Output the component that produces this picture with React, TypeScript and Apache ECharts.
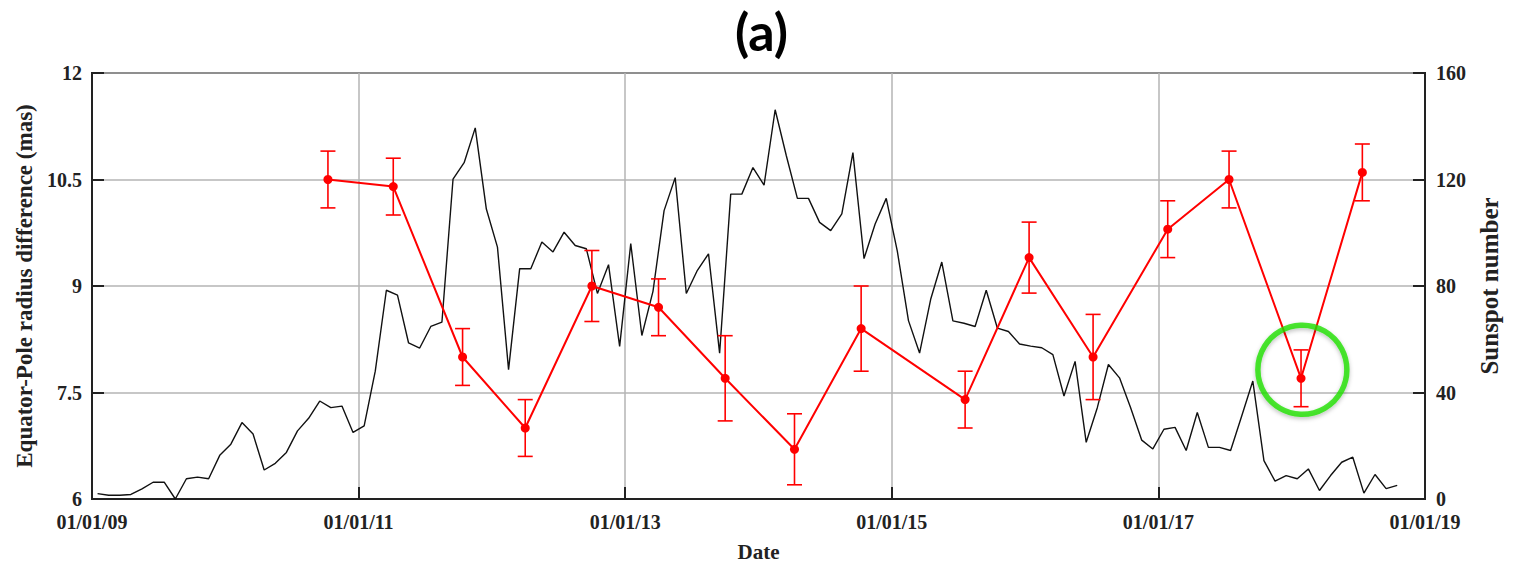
import React, { useEffect, useRef } from "react";
import * as echarts from "echarts";

// ---------- data ----------
const START_YEAR = 2009;

// Monthly sunspot number, Jan 2009 .. Oct 2018 (right axis)
const MONTHLY_SSN = [
  2.0, 1.4, 1.4, 1.7, 3.8, 6.3, 6.3, 0, 7.6, 8.2, 7.6, 16.4,
  20.6, 28.7, 24.4, 10.9, 13.4, 17.5, 25.6, 30.3, 36.8, 34.3, 34.9, 25.0,
  27.5, 48, 78.4, 76.6, 58.6, 56.7, 64.8, 66.4, 120.1, 126.3, 139.4, 108.9,
  94.6, 48.6, 86.5, 86.5, 96.5, 92.8, 100.2, 95.2, 94.0, 77.2, 88.0, 57.3,
  95.9, 61.4, 78, 108.3, 120.7, 77.2, 85.9, 92.1, 54.8, 114.5, 114.5, 124.5,
  117.9, 146.2, 129, 112.9, 112.9, 103.9, 100.8, 107.1, 130.1, 90.3, 103.3, 112.9,
  93, 67, 54.8, 75, 89.0, 66.9, 66.0, 64.8, 78.4, 64.2, 62.9, 58.2,
  57.4, 56.8, 54.2, 38.7, 51.7, 21.3, 34.3, 50.5, 45.5, 34.3, 22.1, 18.8,
  26.2, 26.9, 18.2, 32.5, 19.4, 19.4, 18.2, 31.2, 44.3, 14.4, 6.7, 8.8,
  7.6, 11.3, 3.2, 8.8, 13.8, 15.7, 2.2, 9.2, 3.9, 5.1,
];

// Equator-Pole radius difference (mas), left axis
const EP_DATES = [
  2010.77, 2011.26, 2011.78, 2012.25, 2012.75, 2013.25, 2013.75, 2014.27,
  2014.77, 2015.55, 2016.03, 2016.51, 2017.07, 2017.53, 2018.07, 2018.53,
];
const EP_VALUES = [10.5, 10.4, 8.0, 7.0, 9.0, 8.7, 7.7, 6.7, 8.4, 7.4, 9.4, 8.0, 9.8, 10.5, 7.7, 10.6];
const EP_ERRORS = [0.4, 0.4, 0.4, 0.4, 0.5, 0.4, 0.6, 0.5, 0.6, 0.4, 0.5, 0.6, 0.4, 0.4, 0.4, 0.4];

// highlighted point (green ring), in data coordinates
const HIGHLIGHT = [2018.08, 7.82];

const SERIF = '"Liberation Serif", "Times New Roman", serif';

export default function App() {
  const ref = useRef<HTMLDivElement>(null);

  useEffect(() => {
    if (!ref.current) return;
    const chart = echarts.init(ref.current, null, { renderer: "svg" });

    const ssnData = MONTHLY_SSN.map((v, i) => [(i + 0.5) / 12, v]);
    const epData = EP_DATES.map((d, i) => [d - START_YEAR, EP_VALUES[i]]);
    const errData = EP_DATES.map((d, i) => [
      d - START_YEAR,
      EP_VALUES[i] - EP_ERRORS[i],
      EP_VALUES[i] + EP_ERRORS[i],
    ]);

    const tickLabel = {
      fontFamily: SERIF,
      fontWeight: "bold",
      fontSize: 20,
      color: "#222",
    };
    const nameStyle = {
      fontFamily: SERIF,
      fontWeight: "bold",
      color: "#222",
    };

    chart.setOption({
      animation: false,
      backgroundColor: "#fff",
      title: {
        text: "(a)",
        left: "center",
        top: 0,
        textStyle: {
          fontFamily: "Lato, 'Open Sans', sans-serif",
          fontWeight: "bold",
          fontSize: 52,
          color: "#000",
        },
      },
      grid: {
        left: 92,
        right: 98,
        top: 73,
        bottom: 65,
        show: true,
        borderColor: "#222",
        borderWidth: 2,
        backgroundColor: "transparent",
      },
      xAxis: {
        type: "value",
        min: 0,
        max: 10,
        interval: 2,
        name: "Date",
        nameLocation: "middle",
        nameGap: 42,
        nameTextStyle: { ...nameStyle, fontSize: 21 },
        axisLine: { show: true, lineStyle: { color: "#222", width: 2 } },
        axisTick: { show: true, inside: true, length: 12, lineStyle: { color: "#222", width: 2 } },
        axisLabel: {
          ...tickLabel,
          margin: 13,
          formatter: (v: number) =>
            "01/01/" + String(Math.round(v) + (START_YEAR % 100)).padStart(2, "0"),
        },
        splitLine: { show: true, lineStyle: { color: "#b5b5b5", width: 1.5 } },
      },
      yAxis: [
        {
          type: "value",
          min: 6,
          max: 12,
          interval: 1.5,
          name: "Equator-Pole radius difference (mas)",
          nameLocation: "middle",
          nameRotate: 90,
          nameGap: 54,
          nameTextStyle: { ...nameStyle, fontSize: 23 },
          axisLine: { show: true, lineStyle: { color: "#222", width: 2 } },
          axisTick: { show: true, inside: true, length: 12, lineStyle: { color: "#222", width: 2 } },
          axisLabel: { ...tickLabel, margin: 10 },
          splitLine: { show: true, lineStyle: { color: "#b5b5b5", width: 1.5 } },
        },
        {
          type: "value",
          min: 0,
          max: 160,
          interval: 40,
          position: "right",
          name: "Sunspot number",
          nameLocation: "middle",
          nameRotate: 90,
          nameGap: 52,
          nameTextStyle: { ...nameStyle, fontSize: 25 },
          axisLine: { show: true, lineStyle: { color: "#222", width: 2 } },
          axisTick: { show: true, inside: true, length: 12, lineStyle: { color: "#222", width: 2 } },
          axisLabel: { ...tickLabel, margin: 11 },
          splitLine: { show: false },
        },
      ],
      series: [
        {
          type: "line",
          yAxisIndex: 1,
          data: ssnData,
          showSymbol: false,
          symbol: "none",
          lineStyle: { color: "#111", width: 1.4 },
          z: 2,
        },
        {
          type: "line",
          yAxisIndex: 0,
          data: epData,
          symbol: "circle",
          symbolSize: 9,
          itemStyle: { color: "#ff0000" },
          lineStyle: { color: "#ff0000", width: 2 },
          z: 3,
        },
        {
          type: "custom",
          yAxisIndex: 0,
          data: errData,
          encode: { x: 0, y: [1, 2] },
          z: 3,
          renderItem: (params: any, api: any) => {
            const x = api.value(0);
            const lo = api.coord([x, api.value(1)]);
            const hi = api.coord([x, api.value(2)]);
            const w = 7.5;
            const st = { stroke: "#ff0000", lineWidth: 1.6 };
            return {
              type: "group",
              children: [
                { type: "line", shape: { x1: lo[0], y1: lo[1], x2: hi[0], y2: hi[1] }, style: st },
                { type: "line", shape: { x1: lo[0] - w, y1: lo[1], x2: lo[0] + w, y2: lo[1] }, style: st },
                { type: "line", shape: { x1: hi[0] - w, y1: hi[1], x2: hi[0] + w, y2: hi[1] }, style: st },
              ],
            };
          },
        },
        {
          type: "scatter",
          yAxisIndex: 0,
          data: [[HIGHLIGHT[0] - START_YEAR, HIGHLIGHT[1]]],
          symbol: "circle",
          symbolSize: 89,
          silent: true,
          z: 5,
          itemStyle: {
            color: "rgba(0,0,0,0)",
            borderColor: "#1fe000",
            borderWidth: 5.5,
            shadowBlur: 4,
            shadowOffsetY: 2,
            shadowColor: "rgba(0,0,0,0.3)",
          },
        },
      ],
    });

    return () => chart.dispose();
  }, []);

  return (
    <div
      ref={ref}
      style={{ position: "fixed", left: 0, top: 0, width: 1523, height: 567 }}
    />
  );
}
